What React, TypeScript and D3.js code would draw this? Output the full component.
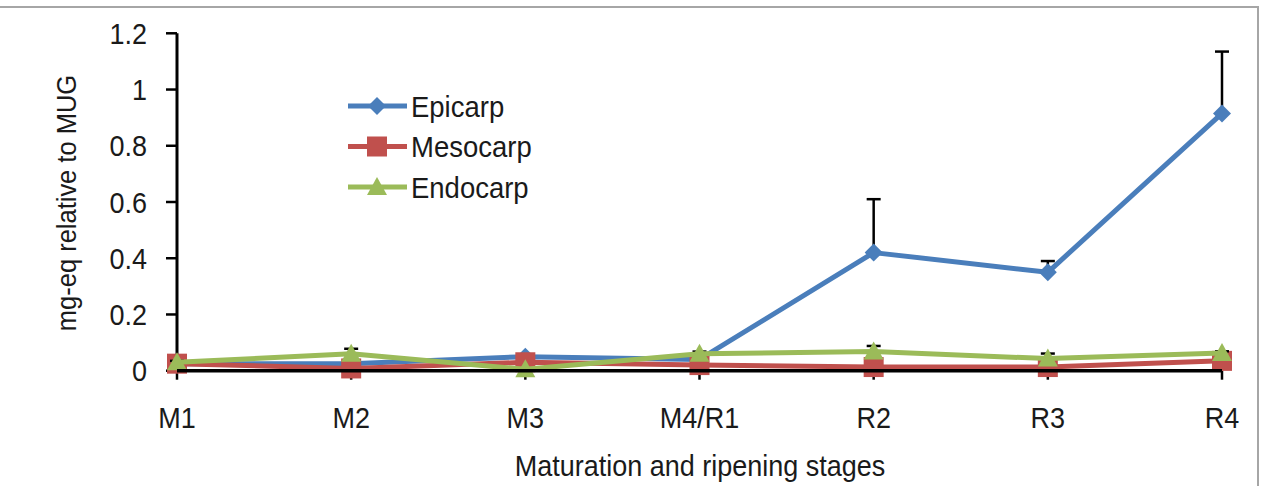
import React from "react";
import * as d3 from "d3";

const categories = ["M1", "M2", "M3", "M4/R1", "R2", "R3", "R4"];
const epicarp = [0.025, 0.025, 0.05, 0.04, 0.42, 0.35, 0.915];
const epicarpErr = [0.005, 0.005, 0.008, 0.008, 0.19, 0.04, 0.22];
const mesocarp = [0.025, 0.008, 0.03, 0.02, 0.013, 0.013, 0.035];
const mesocarpErr = [0.003, 0.003, 0.005, 0.005, 0.005, 0.005, 0.005];
const endocarp = [0.03, 0.06, 0.005, 0.06, 0.068, 0.043, 0.063];
const endocarpErr = [0.005, 0.018, 0.003, 0.008, 0.02, 0.018, 0.006];
const yTicks = [0, 0.2, 0.4, 0.6, 0.8, 1, 1.2];

const series = [
  { name: "Epicarp", values: epicarp, err: epicarpErr, color: "#4a7ebb", marker: "diamond" },
  { name: "Mesocarp", values: mesocarp, err: mesocarpErr, color: "#c0504d", marker: "square" },
  { name: "Endocarp", values: endocarp, err: endocarpErr, color: "#9bbb59", marker: "triangle" },
];

const W = 1268;
const H = 486;
const FONT = "'Liberation Sans', Arial, sans-serif";

function Marker({ type, x, y, color }: { type: string; x: number; y: number; color: string }) {
  if (type === "diamond") {
    const s = 9;
    return <path d={`M${x},${y - s}L${x + s},${y}L${x},${y + s}L${x - s},${y}Z`} fill={color} />;
  }
  if (type === "square") {
    const s = 10;
    return <rect x={x - s} y={y - s} width={2 * s} height={2 * s} fill={color} />;
  }
  const s = 10;
  return <path d={`M${x},${y - s}L${x + s},${y + s * 0.8}L${x - s},${y + s * 0.8}Z`} fill={color} />;
}

export default function App() {
  const x = d3.scalePoint<string>().domain(categories).range([177, 1222]);
  const y = d3.scaleLinear().domain([0, 1.2]).range([370.7, 33.3]);
  const line = d3
    .line<number>()
    .x((_, i) => x(categories[i]) as number)
    .y((d) => y(d));

  return (
    <svg
      width={W}
      height={H}
      style={{ position: "absolute", left: 0, top: 0, background: "#fff" }}
      fontFamily={FONT}
    >
      <rect x={-5} y={7} width={1263} height={520} fill="#fff" stroke="#a6a6a6" strokeWidth={2} />

      {/* y axis */}
      <line x1={177} x2={177} y1={y(1.2)} y2={y(0)} stroke="#000" strokeWidth={3} />
      {yTicks.map((t) => (
        <g key={t}>
          <line x1={166} x2={177} y1={y(t)} y2={y(t)} stroke="#000" strokeWidth={2.5} />
          <text
            x={147}
            y={y(t)}
            dy="0.36em"
            textAnchor="end"
            fontSize={27}
            fill="#1a1a1a"
            transform={`translate(0, ${y(t)}) scale(1,1.1) translate(0, ${-y(t)})`}
          >
            {String(t)}
          </text>
        </g>
      ))}
      <text
        transform="translate(76, 203) rotate(-90) scale(1,1.05)"
        textAnchor="middle"
        fontSize={25.5}
        fill="#1a1a1a"
      >
        mg-eq relative to MUG
      </text>

      {/* x axis */}
      {categories.map((c) => (
        <g key={c}>
          <line x1={x(c)} x2={x(c)} y1={y(0)} y2={y(0) + 9} stroke="#000" strokeWidth={2.5} />
          <text
            x={x(c)}
            y={428}
            textAnchor="middle"
            fontSize={27}
            fill="#1a1a1a"
            transform={`translate(0, 428) scale(1,1.1) translate(0, -428)`}
          >
            {c}
          </text>
        </g>
      ))}
      <text
        x={700}
        y={476}
        textAnchor="middle"
        fontSize={27}
        fill="#1a1a1a"
        transform={`translate(0, 476) scale(1,1.1) translate(0, -476)`}
      >
        Maturation and ripening stages
      </text>

      {/* series */}
      {series.map((s) => (
        <g key={s.name}>
          {s.values.map((v, i) => {
            const cx = x(categories[i]) as number;
            const top = y(v + s.err[i]);
            return (
              <g key={i}>
                <line x1={cx} x2={cx} y1={y(v)} y2={top} stroke="#000" strokeWidth={2.5} />
                <line x1={cx - 7} x2={cx + 7} y1={top} y2={top} stroke="#000" strokeWidth={2.5} />
              </g>
            );
          })}
          <path d={line(s.values) || ""} fill="none" stroke={s.color} strokeWidth={5} strokeLinejoin="round" />
          {s.values.map((v, i) => (
            <Marker key={i} type={s.marker} x={x(categories[i]) as number} y={y(v)} color={s.color} />
          ))}
        </g>
      ))}
      <line x1={177} x2={1222} y1={y(0)} y2={y(0)} stroke="#000" strokeWidth={3.5} />

      {/* legend */}
      {series.map((s, i) => {
        const ly = 106 + i * 40.5;
        return (
          <g key={s.name}>
            <line x1={348} x2={407} y1={ly} y2={ly} stroke={s.color} strokeWidth={5} />
            <Marker type={s.marker} x={377} y={ly} color={s.color} />
            <text
              x={411}
              y={ly}
              dy="0.36em"
              fontSize={27.5}
              fill="#1a1a1a"
              transform={`translate(0, ${ly}) scale(1,1.1) translate(0, ${-ly})`}
            >
              {s.name}
            </text>
          </g>
        );
      })}
    </svg>
  );
}
